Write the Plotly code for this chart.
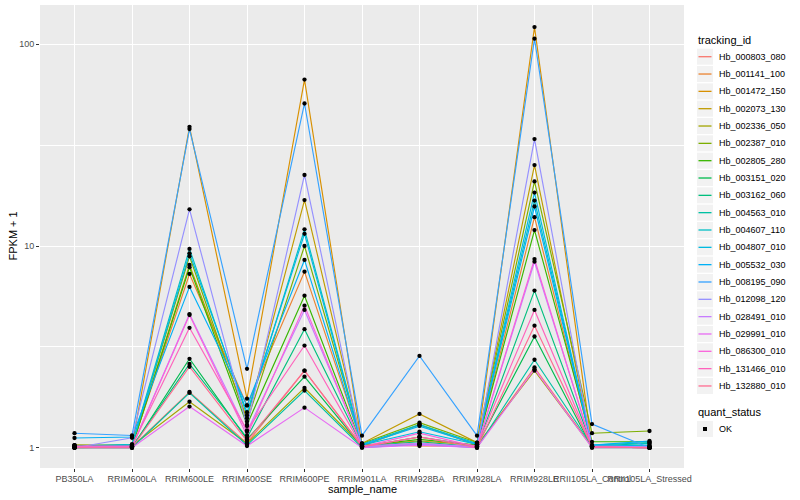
import plotly.graph_objects as go

samples = ["PB350LA", "RRIM600LA", "RRIM600LE", "RRIM600SE", "RRIM600PE",
           "RRIM901LA", "RRIM928BA", "RRIM928LA", "RRIM928LE",
           "RRII105LA_Control", "RRII105LA_Stressed"]

tracking_ids = ["Hb_000803_080", "Hb_001141_100", "Hb_001472_150", "Hb_002073_130",
                "Hb_002336_050", "Hb_002387_010", "Hb_002805_280", "Hb_003151_020",
                "Hb_003162_060", "Hb_004563_010", "Hb_004607_110", "Hb_004807_010",
                "Hb_005532_030", "Hb_008195_090", "Hb_012098_120", "Hb_028491_010",
                "Hb_029991_010", "Hb_086300_010", "Hb_131466_010", "Hb_132880_010"]

quant_status = ["OK"]

# FPKM + 1 per sample (order of `samples`)
hb_000803_080 = [1.02, 1.01, 1.89, 1.05, 2.41, 1.02, 1.05, 1.01, 2.50, 1.01, 1.00]
hb_001141_100 = [1.03, 1.02, 7.27, 1.62, 7.46, 1.04, 1.02, 1.02, 13.9, 1.02, 1.01]
hb_001472_150 = [1.01, 1.02, 39.0, 1.75, 66.9, 1.03, 1.08, 1.03, 121.8, 1.01, 1.00]
hb_002073_130 = [1.02, 1.01, 8.05, 1.40, 16.9, 1.05, 1.47, 1.06, 25.2, 1.02, 1.01]
hb_002336_050 = [1.01, 1.02, 1.69, 1.05, 1.98, 1.02, 1.30, 1.03, 2.41, 1.01, 1.00]
hb_002387_010 = [1.03, 1.03, 8.90, 1.35, 10.0, 1.05, 1.33, 1.06, 20.9, 1.18, 1.21]
hb_002805_280 = [1.00, 1.01, 7.85, 1.30, 5.67, 1.02, 1.10, 1.03, 12.0, 1.07, 1.07]
hb_003151_020 = [1.00, 1.00, 2.76, 1.10, 2.25, 1.01, 1.13, 1.02, 3.56, 1.00, 1.00]
hb_003162_060 = [1.01, 1.01, 2.60, 1.12, 3.87, 1.02, 1.07, 1.01, 6.01, 1.02, 1.02]
hb_004563_010 = [1.00, 1.00, 1.87, 1.03, 1.92, 1.00, 1.04, 1.00, 2.73, 1.02, 1.05]
hb_004607_110 = [1.02, 1.04, 9.67, 1.45, 12.1, 1.04, 1.30, 1.05, 16.8, 1.03, 1.06]
hb_004807_010 = [1.01, 1.03, 9.20, 1.50, 11.5, 1.03, 1.20, 1.04, 18.4, 1.02, 1.03]
hb_005532_030 = [1.117, 1.13, 6.27, 1.62, 8.53, 1.03, 1.28, 1.04, 15.7, 1.03, 1.08]
hb_008195_090 = [1.18, 1.15, 38.0, 2.46, 50.9, 1.147, 2.85, 1.147, 106.7, 1.31, 1.00]
hb_012098_120 = [1.00, 1.12, 15.2, 1.28, 22.5, 1.01, 1.04, 1.01, 33.9, 1.01, 1.00]
hb_028491_010 = [1.01, 1.01, 4.60, 1.20, 4.82, 1.02, 1.05, 1.01, 8.36, 1.02, 1.01]
hb_029991_010 = [1.00, 1.00, 1.60, 1.02, 1.58, 1.00, 1.03, 1.00, 2.45, 1.00, 1.00]
hb_086300_010 = [1.01, 1.01, 4.55, 1.15, 5.06, 1.01, 1.18, 1.01, 8.62, 1.01, 1.00]
hb_131466_010 = [1.02, 1.02, 3.93, 1.22, 3.21, 1.01, 1.13, 1.02, 4.82, 1.01, 1.00]
hb_132880_010 = [1.00, 1.00, 2.52, 1.08, 2.41, 1.01, 1.13, 1.00, 4.03, 1.01, 1.00]

series_values = [hb_000803_080, hb_001141_100, hb_001472_150, hb_002073_130,
                 hb_002336_050, hb_002387_010, hb_002805_280, hb_003151_020,
                 hb_003162_060, hb_004563_010, hb_004607_110, hb_004807_010,
                 hb_005532_030, hb_008195_090, hb_012098_120, hb_028491_010,
                 hb_029991_010, hb_086300_010, hb_131466_010, hb_132880_010]

y_tick_vals = [1, 10, 100]
y_tick_text = ["1", "10", "100"]
y_minor_vals = [3.1623, 31.623]

colors = ["#F8766D", "#EA8331", "#D89000", "#C09B00", "#A3A500", "#7CAE00",
          "#39B600", "#00BB4E", "#00BF7D", "#00C1A3", "#00BFC4", "#00BAE0",
          "#00B0F6", "#35A2FF", "#9590FF", "#C77CFF", "#E76BF3", "#FA62DB",
          "#FF62BC", "#FF6C91"]

FONT = "Liberation Sans, Arial, sans-serif"
W, H = 800, 500
ML, MR, MT, MB = 40, 116, 5, 32
PW, PH = W - ML - MR, H - MT - MB


def px(xp):
    return (xp - ML) / PW


def py(yp):
    return (H - MB - yp) / PH


fig = go.Figure()
for tid, vals, col in zip(tracking_ids, series_values, colors):
    fig.add_trace(go.Scatter(
        x=samples, y=vals, mode="lines", name=tid, showlegend=False,
        line=dict(color=col, width=1.15)))

all_x = [s for _ in series_values for s in samples]
all_y = [v for vals in series_values for v in vals]
fig.add_trace(go.Scatter(
    x=all_x, y=all_y, mode="markers", name=quant_status[0], showlegend=False,
    marker=dict(color="black", size=4.3, symbol="circle")))


def label(text, xp, yp, size, xanchor="left", angle=0):
    return dict(text=text, x=px(xp), y=py(yp), xref="paper", yref="paper",
                xanchor=xanchor, yanchor="middle", showarrow=False, textangle=angle,
                font=dict(size=size, color="black", family=FONT))


# ---- axis titles ----
shapes = []
annotations = [label("sample_name", ML + PW / 2, 489, 11, "center"),
               label("FPKM + 1", 12, MT + PH / 2, 11, "center", -90)]

# ---- manual ggplot-style legends ----
KEY_X0, KEY_X1, TEXT_X = 697, 713, 716.5
annotations.append(label("tracking_id", KEY_X0 - 1, 40.5, 11))
for i, (tid, col) in enumerate(zip(tracking_ids, colors)):
    yc = 56.7 + 17.33 * i
    shapes.append(dict(type="rect", xref="paper", yref="paper",
                       x0=px(KEY_X0), x1=px(KEY_X1), y0=py(yc - 8), y1=py(yc + 8),
                       fillcolor="#F2F2F2", line=dict(width=0), layer="above"))
    shapes.append(dict(type="line", xref="paper", yref="paper",
                       x0=px(KEY_X0 + 1.5), x1=px(KEY_X1 - 1.5), y0=py(yc), y1=py(yc),
                       line=dict(color=col, width=1.3), layer="above"))
    annotations.append(label(tid, TEXT_X, yc, 9))

annotations.append(label("quant_status", KEY_X0 - 1, 412.3, 11))
yc = 429
shapes.append(dict(type="rect", xref="paper", yref="paper",
                   x0=px(KEY_X0), x1=px(KEY_X1), y0=py(yc - 8), y1=py(yc + 8),
                   fillcolor="#F2F2F2", line=dict(width=0), layer="above"))
shapes.append(dict(type="rect", xref="paper", yref="paper",
                   x0=px(703), x1=px(707), y0=py(yc - 2), y1=py(yc + 2),
                   fillcolor="black", line=dict(width=0), layer="above"))
annotations.append(label(quant_status[0], TEXT_X, yc, 9))

fig.update_layout(
    width=W, height=H,
    margin=dict(l=ML, r=MR, t=MT, b=MB, autoexpand=False),
    paper_bgcolor="white", plot_bgcolor="#EBEBEB",
    font=dict(family=FONT, size=10, color="black"),
    showlegend=False,
    shapes=shapes, annotations=annotations,
    xaxis=dict(
        type="category", categoryorder="array", categoryarray=samples,
        range=[-0.6, 10.6], showgrid=True, gridcolor="white", gridwidth=1.4,
        zeroline=False, showline=False, tickangle=0, automargin=False,
        ticks="outside", ticklen=2.5, tickcolor="#333333", tickwidth=1,
        tickfont=dict(size=9, color="#4D4D4D", family=FONT)),
    yaxis=dict(
        type="log", range=[-0.1006, 2.195], automargin=False,
        tickmode="array", tickvals=y_tick_vals, ticktext=y_tick_text,
        showgrid=True, gridcolor="white", gridwidth=1.4,
        zeroline=False, showline=False,
        ticks="outside", ticklen=3, tickcolor="#333333", tickwidth=1,
        tickfont=dict(size=9, color="#4D4D4D", family=FONT),
        minor=dict(tickmode="array", tickvals=y_minor_vals, showgrid=True,
                   gridcolor="white", gridwidth=0.7, ticks="")),
)

# remove the browser's default 8px page margin so the 800x500 figure fills the window
fig.write_html("out.html", config={"displayModeBar": False},
               post_script="document.body.style.margin='0';")
